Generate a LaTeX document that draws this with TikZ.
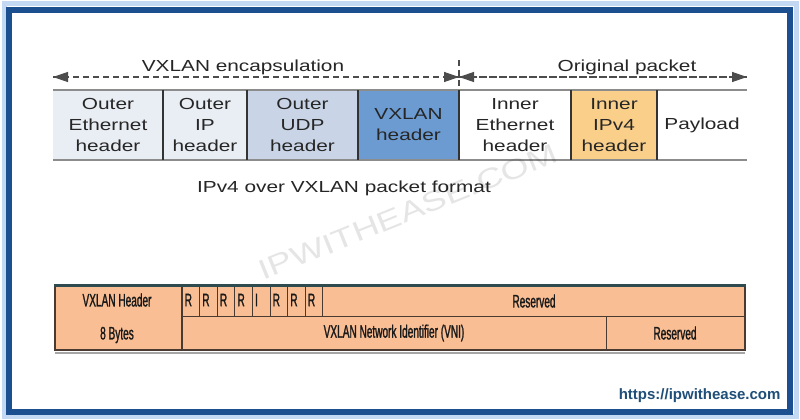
\documentclass[tikz,border=0pt]{standalone}
\usepackage{fontspec}
\setmainfont{Liberation Sans}[FakeStretch=1.3]
\newfontfamily\narrowfont{Liberation Sans}[FakeStretch=0.56,FakeBold=1.2]
\newfontfamily\sitefont{Liberation Sans}
\usetikzlibrary{positioning,arrows.meta}
\definecolor{framedark}{HTML}{1B4F8F}
\definecolor{frameglow}{HTML}{C3D9F3}
\definecolor{outerlight}{HTML}{E9EDF4}
\definecolor{outermid}{HTML}{C9D5E7}
\definecolor{vxblue}{HTML}{6C9BD2}
\definecolor{ipvgold}{HTML}{F9CF8A}
\definecolor{hdrpeach}{HTML}{F9BE93}
\definecolor{hdrline}{HTML}{4A3B32}
\definecolor{hdrtop}{HTML}{2F4B4F}
\definecolor{siteblue}{HTML}{1F4E79}
\definecolor{textgray}{HTML}{262626}
\tikzset{
  field/.style={minimum width=#1, minimum height=70pt, inner sep=0pt, outer sep=0pt,
    align=center, text=textgray, font=\fontsize{16}{21}\selectfont},
  lbl/.style={text=textgray, font=\fontsize{16}{21}\selectfont},
  span/.style={draw=black!70, line width=1.3pt, dash pattern=on 6pt off 4pt},
  tip/.style={-{Triangle[length=15pt,width=10pt]}},
  rowline/.style={draw=black!45, line width=1.6pt},
  sepline/.style={draw=black!80, line width=1.2pt},
  hdrrule/.style={draw=hdrline, line width=1pt},
  narrow/.style={inner sep=0pt, text=black!90, font=\narrowfont\fontsize{18}{20}\selectfont}
}
\begin{document}
\begin{tikzpicture}[x=1pt,y=-1pt]
\useasboundingbox (0,0) rectangle (800,420);
\fill[white] (0,0) rectangle (800,420);
\draw[frameglow, line width=5pt] (4,4) rectangle (796,416);
\draw[framedark, line width=6pt] (9,10) rectangle (790,412);

% packet format
\node[field=110pt, fill=outerlight, anchor=north west] (oeth) at (53,90) {Outer\\Ethernet\\header};
\node[field=84pt, fill=outerlight, right=0pt of oeth] (oip) {Outer\\IP\\header};
\node[field=111pt, fill=outermid, right=0pt of oip] (oudp) {Outer\\UDP\\header};
\node[field=101pt, fill=vxblue, right=0pt of oudp] (vxh) {VXLAN\\header};
\node[field=112pt, right=0pt of vxh] (ieth) {Inner\\Ethernet\\header};
\node[field=86pt, fill=ipvgold, right=0pt of ieth] (iip) {Inner\\IPv4\\header};
\node[field=90pt, right=0pt of iip] (pay) {Payload};
\draw[rowline] (oeth.north west) -- (pay.north east);
\draw[rowline] (oeth.south west) -- (pay.south east);
\foreach \a/\b in {oeth/oip,oip/oudp,oudp/vxh,vxh/ieth,ieth/iip,iip/pay}
  \draw[sepline] (\b.north west) -- (\b.south west);

\coordinate (encl) at ([yshift=13pt]oeth.north west);
\coordinate (split) at ([yshift=13pt]ieth.north west);
\coordinate (origr) at ([yshift=13pt]pay.north east);
\draw[span, tip] (split) -- (encl);
\draw[span, tip] (encl) -- (split);
\draw[span, tip] (origr) -- (split);
\draw[span, tip] (split) -- (origr);
\draw[span] ([yshift=17pt]split) -- (ieth.north west);
\node[lbl] (enclbl) at (243,67) {VXLAN encapsulation};
\node[lbl] (origlbl) at (627,67) {Original packet};
\node[lbl] (caption) at (344,188) {IPv4 over VXLAN packet format};

% header layout
\fill[hdrpeach] (55,285) rectangle (745,350);
\draw[black!35, line width=2pt] (55,353) -- (745,353);
\draw[hdrrule] (182,316) -- (745,316);
\draw[hdrrule] (606,316) -- (606,350);
\foreach \i in {1,...,8}
  \draw[hdrrule] (182+\i*17.6,285) -- (182+\i*17.6,316);
\draw[hdrline, line width=2pt] (55,285) -- (55,350);
\draw[hdrline, line width=2pt] (182,285) -- (182,350);
\draw[hdrline, line width=2pt] (745,285) -- (745,350);
\draw[hdrtop, line width=3pt] (54,285) -- (746,285);
\draw[hdrline, line width=2.2pt] (54,350) -- (746,350);
\node[narrow] (vxhdr) at (117,300) {VXLAN Header};
\node[narrow] (vxsize) at (117,335) {8 Bytes};
\foreach \i/\t in {0/R,1/R,2/R,3/R,4/I,5/R,6/R,7/R}
  \node[narrow, anchor=west] (flag\i) at (184.5+\i*17.6,300) {\t};
\node[narrow] (resv) at (534,301) {Reserved};
\node[narrow] (vni) at (394,333) {VXLAN Network Identifier (VNI)};
\node[narrow] (resvlow) at (675,333) {Reserved};

\node[rotate=22, text=black, text opacity=0.1, font=\fontsize{28}{30}\selectfont] (wmark) at (408,212) {IPWITHEASE.COM};
\node[anchor=east, text=siteblue, font=\sitefont\bfseries\fontsize{15}{18}\selectfont] (site) at (784,396) {https://ipwithease.com};
\end{tikzpicture}
\end{document}
